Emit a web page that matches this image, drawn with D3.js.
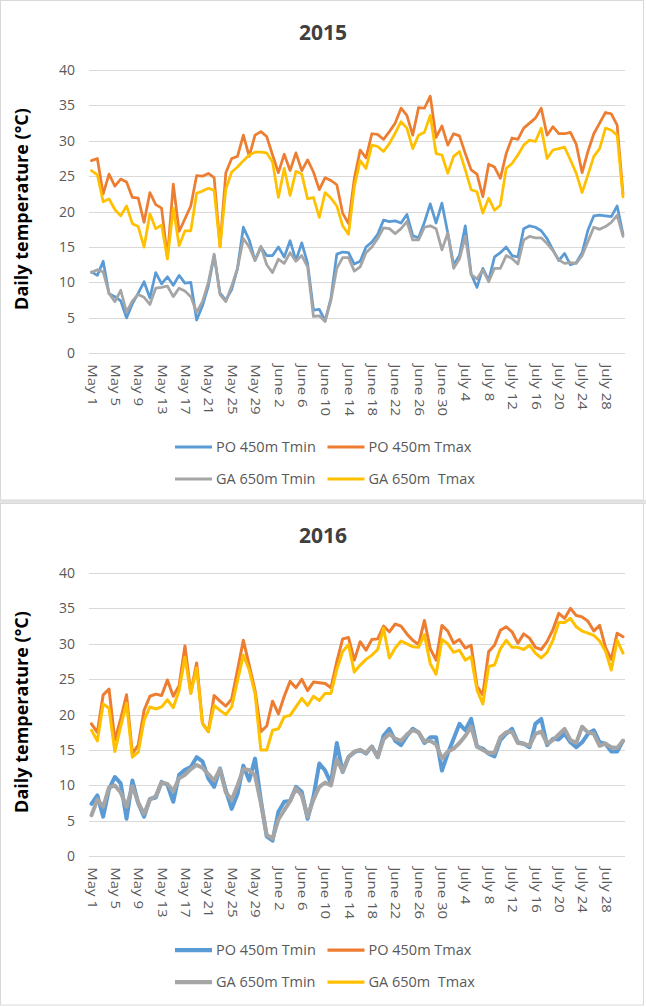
<!DOCTYPE html>
<html><head><meta charset="utf-8">
<script src="https://cdn.jsdelivr.net/npm/d3@7"></script>
<style>
html,body{margin:0;padding:0;background:#fff;}
svg{display:block;}
text{font-family:"Open Sans","Noto Sans",sans-serif;}
</style>
</head><body>
<svg id="chart" width="646" height="1007"></svg>
<script>
const categories = [
"May 1","May 2","May 3","May 4","May 5","May 6","May 7","May 8","May 9","May 10",
"May 11","May 12","May 13","May 14","May 15","May 16","May 17","May 18","May 19","May 20",
"May 21","May 22","May 23","May 24","May 25","May 26","May 27","May 28","May 29","May 30","May 31",
"June 1","June 2","June 3","June 4","June 5","June 6","June 7","June 8","June 9","June 10",
"June 11","June 12","June 13","June 14","June 15","June 16","June 17","June 18","June 19","June 20",
"June 21","June 22","June 23","June 24","June 25","June 26","June 27","June 28","June 29","June 30",
"July 1","July 2","July 3","July 4","July 5","July 6","July 7","July 8","July 9","July 10",
"July 11","July 12","July 13","July 14","July 15","July 16","July 17","July 18","July 19","July 20",
"July 21","July 22","July 23","July 24","July 25","July 26","July 27","July 28","July 29","July 30","July 31"];

const tickLabels = ["May 1","May 5","May 9","May 13","May 17","May 21","May 25","May 29",
"June 2","June 6","June 10","June 14","June 18","June 22","June 26","June 30",
"July 4","July 8","July 12","July 16","July 20","July 24","July 28"];

const yTicks = [0,5,10,15,20,25,30,35,40];
const seriesNames = ["PO 450m Tmin","PO 450m Tmax","GA 650m Tmin","GA 650m  Tmax"];
const seriesColors = ["#5B9BD5","#ED7D31","#A5A5A5","#FFC000"];
const years = ["2015","2016"];

const po2015Tmin = [11.5,11.0,13.0,8.4,8.0,7.4,5.0,7.0,8.5,10.1,
 7.8,11.4,9.8,10.8,9.6,11.0,9.9,10.0,4.7,6.7,
 9.5,13.8,8.5,7.5,9.0,12.0,17.8,16.0,13.1,15.0,
 13.8,13.8,15.0,13.6,15.9,13.1,15.6,12.7,6.1,6.2,
 4.6,7.8,14.0,14.3,14.2,12.6,13.0,15.0,15.7,16.8,
 18.8,18.6,18.7,18.4,19.6,16.6,16.3,18.5,21.1,18.4,
 21.2,17.0,12.5,13.8,18.0,11.2,9.3,12.0,10.3,13.6,
 14.2,15.0,13.8,13.6,17.6,18.0,17.8,17.3,16.2,14.6,
 13.1,14.1,12.5,12.8,14.2,17.4,19.4,19.5,19.4,19.3,
 20.8,16.8];
const po2015Tmax = [27.2,27.5,22.5,25.3,23.6,24.6,24.2,22.0,21.9,18.5,
 22.7,21.0,20.5,13.5,23.9,17.2,19.0,20.8,25.1,25.0,
 25.4,24.8,15.1,25.5,27.5,27.8,30.8,27.8,30.8,31.3,
 30.6,28.0,25.5,28.1,25.8,28.3,25.8,27.3,25.6,23.1,
 24.8,24.4,23.8,19.8,18.3,24.7,28.7,27.6,31.0,30.9,
 30.2,31.3,32.5,34.6,33.6,30.8,34.7,34.6,36.3,30.5,
 32.1,29.4,31.0,30.7,28.2,25.9,25.3,22.1,26.7,26.3,
 24.7,28.2,30.4,30.2,31.8,32.5,33.2,34.6,30.8,32.0,
 31.0,31.0,31.2,29.5,25.5,28.5,31.0,32.5,34.0,33.8,
 32.2,22.5];
const ga2015Tmin = [11.4,11.8,11.5,8.5,7.3,8.9,5.8,7.4,8.3,7.9,
 6.9,9.2,9.3,9.5,8.0,9.2,8.8,8.0,5.8,7.3,
 10.0,14.0,8.3,7.3,9.5,12.0,16.2,15.0,13.1,15.1,
 12.5,11.4,13.3,12.7,14.2,13.0,13.8,12.2,5.2,5.3,
 4.5,7.5,12.0,13.5,13.5,11.6,12.2,14.2,15.0,16.2,
 17.7,17.6,16.9,17.6,18.6,16.0,16.0,17.8,18.0,17.6,
 14.6,17.0,12.0,13.3,16.5,11.1,10.5,11.8,10.1,12.0,
 12.0,13.8,13.4,12.6,16.0,16.5,16.3,16.3,15.5,14.5,
 13.2,12.7,12.8,12.7,13.8,15.8,17.8,17.5,17.9,18.5,
 19.5,16.5];
const ga2015Tmax = [25.8,25.2,21.4,21.8,20.3,19.4,20.8,18.3,17.9,15.0,
 19.7,17.6,18.1,13.3,20.5,15.2,17.3,17.3,22.6,22.9,
 23.3,23.0,15.0,23.2,25.6,26.3,27.2,28.0,28.4,28.4,
 28.3,27.0,22.0,26.1,22.3,25.7,25.3,21.8,22.0,19.2,
 22.7,21.9,20.8,18.0,16.8,23.5,27.2,26.1,29.4,29.2,
 28.5,29.6,31.1,32.7,31.8,28.9,30.8,31.2,33.6,28.2,
 28.0,25.4,27.8,28.5,25.9,23.1,22.8,19.8,21.9,20.2,
 20.9,26.1,26.8,28.0,29.4,30.1,29.9,31.8,27.5,28.7,
 28.9,29.1,27.3,25.4,22.7,25.2,27.8,28.9,31.8,31.5,
 30.8,22.1];

const po2016Tmin = [7.4,8.6,5.6,9.5,11.2,10.3,5.3,10.7,7.5,5.6,
 8.1,8.3,10.5,10.1,7.7,11.5,12.2,12.6,14.0,13.4,
 11.0,9.8,12.4,9.3,6.7,8.8,12.8,10.7,13.8,7.9,
 2.8,2.2,6.3,7.7,7.8,9.8,9.1,5.3,8.4,13.1,
 12.1,10.3,16.0,11.9,14.0,14.7,15.0,14.5,15.5,14.0,
 17.0,18.0,16.3,15.7,17.0,18.0,17.5,16.0,16.8,16.8,
 12.1,14.5,16.6,18.7,17.8,19.4,15.5,15.2,14.5,14.1,
 16.4,17.3,18.0,16.1,15.9,15.4,18.7,19.4,15.7,16.6,
 16.5,17.3,16.1,15.4,16.1,17.3,17.8,16.1,15.9,14.8,
 14.8,16.3];
const po2016Tmax = [18.7,17.5,22.8,23.6,16.4,19.4,22.8,14.5,15.7,20.6,
 22.6,22.9,22.7,24.9,22.6,24.1,29.7,23.1,27.3,18.8,
 17.6,22.7,21.9,21.2,22.2,26.3,30.5,27.0,23.4,17.6,
 18.4,21.9,20.1,22.6,24.7,23.8,25.0,23.4,24.6,24.5,
 24.4,23.8,27.5,30.7,30.9,27.7,30.3,29.1,30.6,30.7,
 32.5,31.7,32.8,32.5,31.4,30.5,29.9,33.3,29.3,27.7,
 32.6,31.8,30.1,30.6,29.4,29.8,24.0,22.8,28.9,29.8,
 31.9,32.4,31.7,30.1,31.4,30.8,29.5,29.2,30.3,32.0,
 34.3,33.6,35.0,34.0,33.8,33.2,31.8,32.6,29.5,27.8,
 31.5,31.0];
const ga2016Tmin = [5.8,8.0,7.0,9.7,10.0,9.0,7.0,9.9,7.6,6.0,
 8.0,8.5,10.4,10.2,9.2,11.0,11.5,12.3,12.9,12.5,
 11.6,10.7,12.3,9.0,8.0,10.0,12.3,12.2,11.4,7.5,
 3.0,2.5,5.2,6.5,7.8,9.6,8.6,5.6,8.0,9.8,
 10.4,10.0,13.7,12.0,14.0,14.8,15.0,14.6,15.5,14.0,
 16.5,17.3,16.6,16.3,17.2,17.8,17.5,16.2,16.3,15.8,
 13.8,14.8,15.2,16.0,17.0,18.3,15.5,15.0,14.6,14.6,
 16.8,17.5,17.6,16.0,15.9,15.6,17.3,17.6,15.9,16.4,
 17.2,18.0,16.4,16.0,18.3,17.5,17.3,15.6,15.9,15.4,
 15.3,16.3];
const ga2016Tmax = [17.8,16.3,21.5,20.9,14.8,18.3,21.6,14.0,14.7,19.2,
 21.1,20.8,21.1,22.1,21.0,23.4,28.1,23.0,26.6,18.7,
 17.6,21.3,20.6,20.0,21.1,24.8,28.4,26.3,23.0,15.0,
 15.0,17.8,18.0,19.7,19.9,21.1,22.3,21.3,22.6,22.0,
 23.0,23.0,26.4,28.9,29.9,26.0,27.0,27.8,28.4,29.2,
 32.2,28.0,29.4,30.4,30.0,29.6,29.5,31.3,27.2,25.7,
 30.6,30.0,28.8,29.1,27.7,28.2,23.5,21.5,26.8,27.0,
 29.3,30.5,29.5,29.5,29.2,29.8,28.7,28.0,28.8,30.5,
 33.0,33.0,33.6,32.4,31.8,31.5,31.2,30.4,29.0,26.3,
 30.5,28.7];

const panelSeries = [
  [po2015Tmin, po2015Tmax, ga2015Tmin, ga2015Tmax],
  [po2016Tmin, po2016Tmax, ga2016Tmin, ga2016Tmax]
];

const svg = d3.select("#chart");
const W = 646;
const panelTops = [0, 503];
const lineWidths = [[2.75,2.75,2.75,2.75],[4,3,4,3]];

// separator band between panels
svg.append("rect").attr("x",0).attr("y",500).attr("width",W).attr("height",4).attr("fill","#e3e3e3");

years.forEach((yr, p) => {
  const top = panelTops[p];
  const g = svg.append("g").attr("transform", `translate(0,${top})`);

  g.append("rect").attr("x",0.5).attr("y",0.5).attr("width",643).attr("height",499.5 - (p===0?0:-2))
    .attr("fill","#fff").attr("stroke","#d9d9d9").attr("stroke-width",1);

  const x = d3.scalePoint().domain(categories).range([91.5, 623]);
  const y = d3.scaleLinear().domain([0, 40]).range([353.3, 70]);

  // gridlines
  g.append("g").selectAll("line").data(yTicks).join("line")
    .attr("x1", 89).attr("x2", 625)
    .attr("y1", d => Math.round(y(d)) + 0.5).attr("y2", d => Math.round(y(d)) + 0.5)
    .attr("stroke", "#d9d9d9").attr("stroke-width", 1);

  // y axis labels
  const ya = g.append("g").attr("transform","translate(89,0)")
    .call(d3.axisLeft(y).tickValues(yTicks).tickSize(0).tickPadding(14));
  ya.select(".domain").remove();
  ya.selectAll("text").attr("fill","#595959").style("font-size","14px");

  // x axis labels
  const xa = g.append("g").attr("transform", `translate(0,${y(0)})`)
    .call(d3.axisBottom(x).tickValues(tickLabels).tickSize(0));
  xa.select(".domain").remove();
  xa.selectAll("text")
    .attr("x", 0).attr("y", 0).attr("dy", "0.36em")
    .attr("text-anchor", "start")
    .attr("transform", "translate(0,11) rotate(90) scale(1.25,1)")
    .attr("fill", "#595959").style("font-size", "12px");

  // lines
  const series = panelSeries[p];
  series.forEach((vals, s) => {
    const line = d3.line()
      .x((d, i) => x(categories[i]))
      .y(d => y(d));
    g.append("path").datum(vals)
      .attr("d", line)
      .attr("fill", "none")
      .attr("stroke", seriesColors[s])
      .attr("stroke-width", lineWidths[p][s])
      .attr("stroke-linejoin", "round")
      .attr("stroke-linecap", "round");
  });

  // title
  g.append("text").attr("x", 323).attr("y", 40).attr("text-anchor","middle")
    .style("font-size","21px").style("font-weight","bold").attr("fill","#404040").text(yr);

  // y axis title
  g.append("text").attr("transform","translate(28,209) rotate(-90)")
    .attr("text-anchor","middle").style("font-size","18px").style("font-weight","bold")
    .attr("fill","#000").text("Daily temperature (°C)");

  // legend
  const legendPos = [[175,447],[327.5,447],[175,479],[327.5,479]];
  seriesNames.forEach((name, s) => {
    const [lx, ly] = legendPos[s];
    g.append("line").attr("x1", lx).attr("x2", lx + 37).attr("y1", ly).attr("y2", ly)
      .attr("stroke", seriesColors[s]).attr("stroke-width", lineWidths[p][s] + 0.25);
    g.append("text").attr("x", lx + 41).attr("y", ly).attr("dy","0.35em")
      .style("font-size","14.5px").style("white-space","pre").attr("fill","#595959").text(name);
  });
});
</script>
</body></html>
